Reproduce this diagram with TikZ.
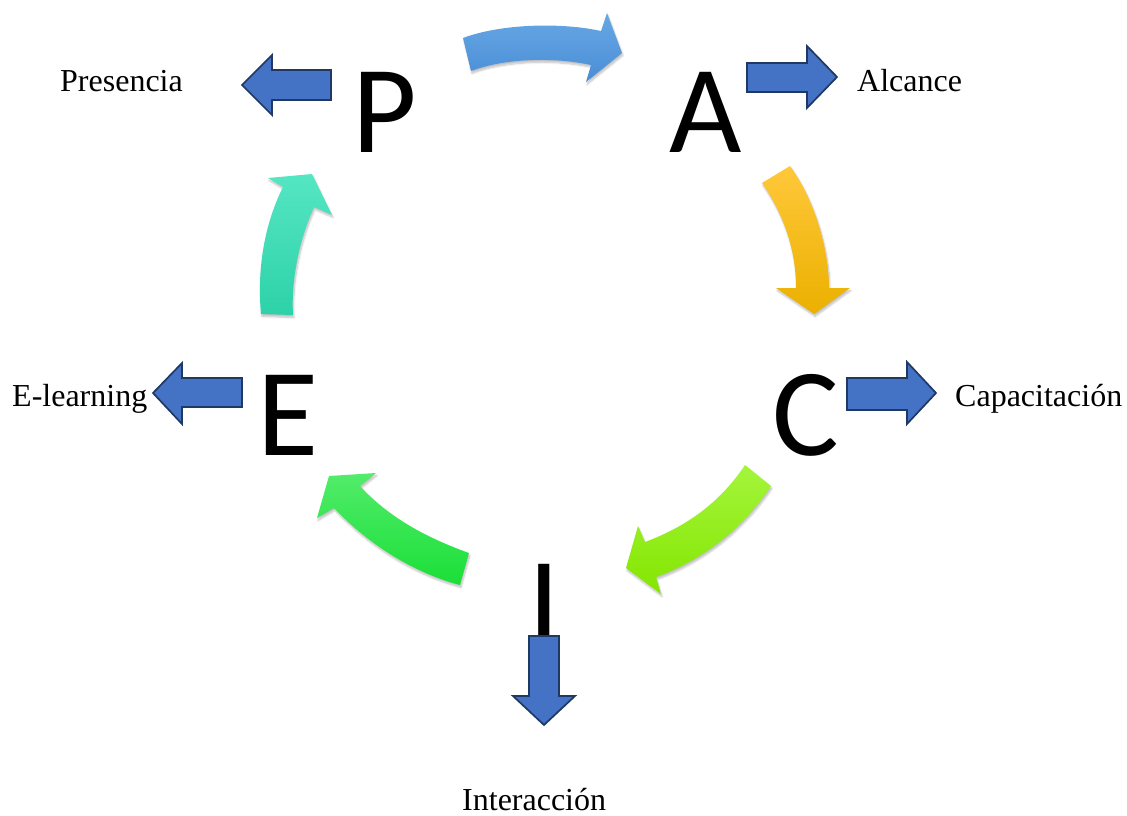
\documentclass[tikz,border=0pt]{standalone}
\usepackage{fontspec}
\setmainfont{Liberation Serif}
\newfontfamily\letterfont{Carlito}
\usetikzlibrary{shadows.blur}
\definecolor{bluefill}{HTML}{4472C4}
\definecolor{blueline}{HTML}{1F3864}
\definecolor{bluetop}{HTML}{66A8E4}
\definecolor{bluebot}{HTML}{4B8DD6}
\definecolor{yeltop}{HTML}{FFC83A}
\definecolor{yelbot}{HTML}{EBB000}
\definecolor{limetop}{HTML}{A4F53C}
\definecolor{limebot}{HTML}{84E600}
\definecolor{greentop}{HTML}{52EC6A}
\definecolor{greenbot}{HTML}{1ADF38}
\definecolor{tealtop}{HTML}{55E6C3}
\definecolor{tealbot}{HTML}{2DD2A8}
\begin{document}
\begin{tikzpicture}[x=1pt,y=-1pt,
  letter/.style={font=\letterfont\fontsize{125}{125}\selectfont, inner sep=0pt, anchor=base},
  lbl/.style={font=\fontsize{32}{34}\selectfont, inner sep=0pt, anchor=base west},
  blockarrow/.style={fill=bluefill, draw=blueline, line width=1.7pt, line join=miter},
  curvearrow/.style={blur shadow={shadow xshift=1pt, shadow yshift=-2.5pt, shadow blur steps=6, shadow opacity=25}}
]
\path[use as bounding box] (0,0) rectangle (1127,816);

% big letters
\node[letter] (P) at (385,152) {P};
\node[letter] (A) at (706,152) {A};
\node[letter] (C) at (806,455) {C};
\node[letter] (E) at (288,455) {E};
\node[letter] (I) at (544,644) {I};

% labels
\node[lbl] (presencia) at (60,92) {Presencia};
\node[lbl] (alcance) at (857,92) {Alcance};
\node[lbl] (capacitacion) at (955,406) {Capacitación};
\node[lbl] (elearning) at (12,406) {E-learning};
\node[lbl] (interaccion) at (462,810) {Interacción};

% curved cycle arrows
\path[curvearrow, top color=bluetop, bottom color=bluebot]
  (463,38) .. controls (500,24) and (560,22) .. (601,31) -- (607,13) -- (622,53)
  -- (586,82) -- (591,65) .. controls (555,57) and (505,58) .. (471,71) -- cycle;
\path[curvearrow, top color=yeltop, bottom color=yelbot]
  (762,183) -- (790,166) .. controls (815,200) and (829,250) .. (829,288)
  -- (850,288) -- (814,314) -- (776,288) -- (796,288)
  .. controls (796,250) and (784,215) .. (762,183) -- cycle;
\path[curvearrow, top color=limetop, bottom color=limebot]
  (745,465) -- (771,486) .. controls (741,531) and (700,561) .. (656,577)
  -- (661,594) -- (626,568) -- (638,526) -- (645,542)
  .. controls (685,527) and (719,504) .. (745,465) -- cycle;
\path[curvearrow, top color=greentop, bottom color=greenbot]
  (469,553) .. controls (430,539) and (390,519) .. (360,486) -- (376,473)
  -- (329,476) -- (317,518) -- (334,508)
  .. controls (370,546) and (415,573) .. (460,585) -- cycle;
\path[curvearrow, top color=tealtop, bottom color=tealbot]
  (261,314) .. controls (257,270) and (264,225) .. (283,187) -- (268,178)
  -- (312,174) -- (332,215) -- (314,207)
  .. controls (299,240) and (291,280) .. (293,315) -- cycle;

% blue block arrows
\path[blockarrow] (331,70) -- (272,70) -- (272,55) -- (242,85) -- (272,115) -- (272,100) -- (331,100) -- cycle;
\path[blockarrow] (747,63) -- (807,63) -- (807,46) -- (837,77) -- (807,108) -- (807,92) -- (747,92) -- cycle;
\path[blockarrow] (847,378) -- (907,378) -- (907,362) -- (936,393) -- (907,424) -- (907,410) -- (847,410) -- cycle;
\path[blockarrow] (242,378) -- (182,378) -- (182,363) -- (153,393) -- (182,424) -- (182,407) -- (242,407) -- cycle;
\path[blockarrow] (529,636) -- (559,636) -- (559,696) -- (575,696) -- (544,725) -- (513,696) -- (529,696) -- cycle;
\end{tikzpicture}
\end{document}
